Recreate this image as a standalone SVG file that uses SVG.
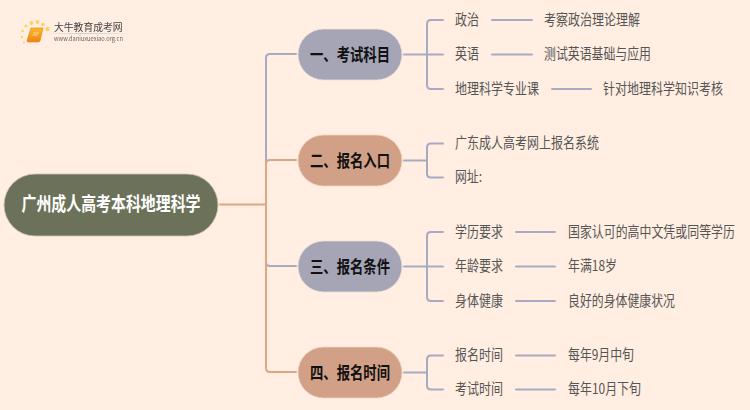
<svg xmlns="http://www.w3.org/2000/svg" width="750" height="410" viewBox="0 0 750 410">
<style>
text{font-family:"Noto Sans CJK SC","Liberation Sans",sans-serif}
.leaf{font-size:14.500px;fill:#555}
.branch{font-size:17px;font-weight:700;fill:#111;text-anchor:middle}
.root{font-size:19px;font-weight:700;fill:#fff;text-anchor:middle}
.b{fill:none;stroke:#a7abc2;stroke-width:2;stroke-linecap:round}
.o{fill:none;stroke:#dca688;stroke-width:2;stroke-linecap:round}
.nb{fill:#a5a5b5;stroke:#eadfd9;stroke-width:.8}
.no{fill:#d2a086;stroke:#f0d4c0;stroke-width:.8}
</style>
<defs><filter id="soft" x="-10%" y="-10%" width="120%" height="120%"><feGaussianBlur stdDeviation="0.35"/></filter>
<linearGradient id="bk" x1="0" y1="0" x2="0" y2="1"><stop offset="0" stop-color="#fbb92c"/><stop offset="1" stop-color="#ee8412"/></linearGradient>
<linearGradient id="rule" x1="0" y1="0" x2="1" y2="0"><stop offset="0" stop-color="#ccc" stop-opacity="0"/><stop offset=".4" stop-color="#ccc"/><stop offset="1" stop-color="#ccc" stop-opacity="0"/></linearGradient></defs>
<rect width="750" height="410" fill="#ffeee1"/>
<g id="logo" filter="url(#soft)">
<g fill="#fbd35f"><circle cx="47.500" cy="29" r="2.200"/><circle cx="43" cy="24.500" r="1.800"/><circle cx="31.500" cy="23" r="1.900"/><circle cx="37.500" cy="22" r="1.900"/><circle cx="26" cy="26" r="1.600"/><circle cx="22.500" cy="31" r="1.300"/><circle cx="22" cy="37" r="1.200"/><circle cx="24" cy="42.500" r="1"/></g>
<path d="M31 28h12l-3 13q-.5 1-2 1H28q-1 0-1-1.500Z" fill="url(#bk)" stroke="#e8801a" stroke-width=".6"/>
<path d="M33 33h6M32.500 35h5" stroke="#fff2c0" stroke-width=".7" fill="none"/>
<text x="54" y="31" font-size="9.800" fill="#444">大牛教育成考网</text>
<rect x="48" y="33" width="85" height="1" fill="url(#rule)"/>
<text x="54" y="41" font-size="6" fill="#666" textLength="69" lengthAdjust="spacingAndGlyphs">www.daniuxuexiao.org.cn</text>
</g>
<g id="connectors">
<path class="o" d="M220 204.500H266"/>
<path class="b" d="M266 204.500V58q0-4 4-4h26"/>
<path class="b" d="M266 204.500V262q0 4 4 4h26"/>
<path class="o" d="M266 204.500V164q0-4 4-4h26"/>
<path class="o" d="M266 204.500V368q0 4 4 4h26"/>
<path class="b" d="M404 54.500H443M443 20h-12q-4 0-4 4v61q0 4 4 4h12"/>
<path class="b" d="M404 160.500H427M443 143.500h-12q-4 0-4 4v26q0 4 4 4h12"/>
<path class="b" d="M404 266.500H443M443 232h-12q-4 0-4 4v61q0 4 4 4h12"/>
<path class="b" d="M404 372.500H427M443 355.500h-12q-4 0-4 4v26q0 4 4 4h12"/>
<path class="b" d="M492 20H532M492 54.500H532M552 89H591M516 232H555M516 266.500H555M516 301H555M516 355.500H555M516 389.500H555"/>
</g>
<g id="root"><rect x="4" y="174" width="214" height="62" rx="31" fill="#6c7259" stroke="#c9c6b0" stroke-width=".8"/><text class="root" x="111" y="210.500" textLength="179" lengthAdjust="spacingAndGlyphs">广州成人高考本科地理科学</text></g>
<g id="branch1"><rect class="nb" x="298" y="29" width="104" height="51" rx="25.500"/><text class="branch" x="350" y="60.500" textLength="80" lengthAdjust="spacingAndGlyphs">一、考试科目</text></g>
<g id="branch2"><rect class="no" x="298" y="135" width="104" height="51" rx="25.500"/><text class="branch" x="350" y="166.500" textLength="80" lengthAdjust="spacingAndGlyphs">二、报名入口</text></g>
<g id="branch3"><rect class="nb" x="298" y="241" width="104" height="51" rx="25.500"/><text class="branch" x="350" y="272.500" textLength="80" lengthAdjust="spacingAndGlyphs">三、报名条件</text></g>
<g id="branch4"><rect class="no" x="298" y="347" width="104" height="51" rx="25.500"/><text class="branch" x="350" y="378.500" textLength="80" lengthAdjust="spacingAndGlyphs">四、报名时间</text></g>
<g id="leaves">
<g id="n-zz"><text class="leaf" x="455" y="24.500" textLength="24" lengthAdjust="spacingAndGlyphs">政治</text></g>
<g id="n-zz2"><text class="leaf" x="544" y="24.500" textLength="96" lengthAdjust="spacingAndGlyphs">考察政治理论理解</text></g>
<g id="n-yy"><text class="leaf" x="455" y="59" textLength="24" lengthAdjust="spacingAndGlyphs">英语</text></g>
<g id="n-yy2"><text class="leaf" x="544" y="59" textLength="107" lengthAdjust="spacingAndGlyphs">测试英语基础与应用</text></g>
<g id="n-dl"><text class="leaf" x="455" y="93.500" textLength="84" lengthAdjust="spacingAndGlyphs">地理科学专业课</text></g>
<g id="n-dl2"><text class="leaf" x="603" y="93.500" textLength="120" lengthAdjust="spacingAndGlyphs">针对地理科学知识考核</text></g>
<g id="n-gd"><text class="leaf" x="455" y="148" textLength="144" lengthAdjust="spacingAndGlyphs">广东成人高考网上报名系统</text></g>
<g id="n-wz"><text class="leaf" x="455" y="182" textLength="27" lengthAdjust="spacingAndGlyphs">网址:</text></g>
<g id="n-xl"><text class="leaf" x="455" y="236.500" textLength="48" lengthAdjust="spacingAndGlyphs">学历要求</text></g>
<g id="n-xl2"><text class="leaf" transform="translate(568 236.500) scale(.823 1)">国家认可的高中文凭或同等学历</text></g>
<g id="n-nl"><text class="leaf" x="455" y="271" textLength="48" lengthAdjust="spacingAndGlyphs">年龄要求</text></g>
<g id="n-nl2"><text class="leaf" x="568" y="271" textLength="49" lengthAdjust="spacingAndGlyphs">年满18岁</text></g>
<g id="n-st"><text class="leaf" x="455" y="305.500" textLength="48" lengthAdjust="spacingAndGlyphs">身体健康</text></g>
<g id="n-st2"><text class="leaf" x="568" y="305.500" textLength="107" lengthAdjust="spacingAndGlyphs">良好的身体健康状况</text></g>
<g id="n-bm"><text class="leaf" x="455" y="360" textLength="48" lengthAdjust="spacingAndGlyphs">报名时间</text></g>
<g id="n-bm2"><text class="leaf" x="568" y="360" textLength="66" lengthAdjust="spacingAndGlyphs">每年9月中旬</text></g>
<g id="n-ks"><text class="leaf" x="455" y="394" textLength="48" lengthAdjust="spacingAndGlyphs">考试时间</text></g>
<g id="n-ks2"><text class="leaf" x="568" y="394" textLength="73" lengthAdjust="spacingAndGlyphs">每年10月下旬</text></g>
</g>
</svg>
